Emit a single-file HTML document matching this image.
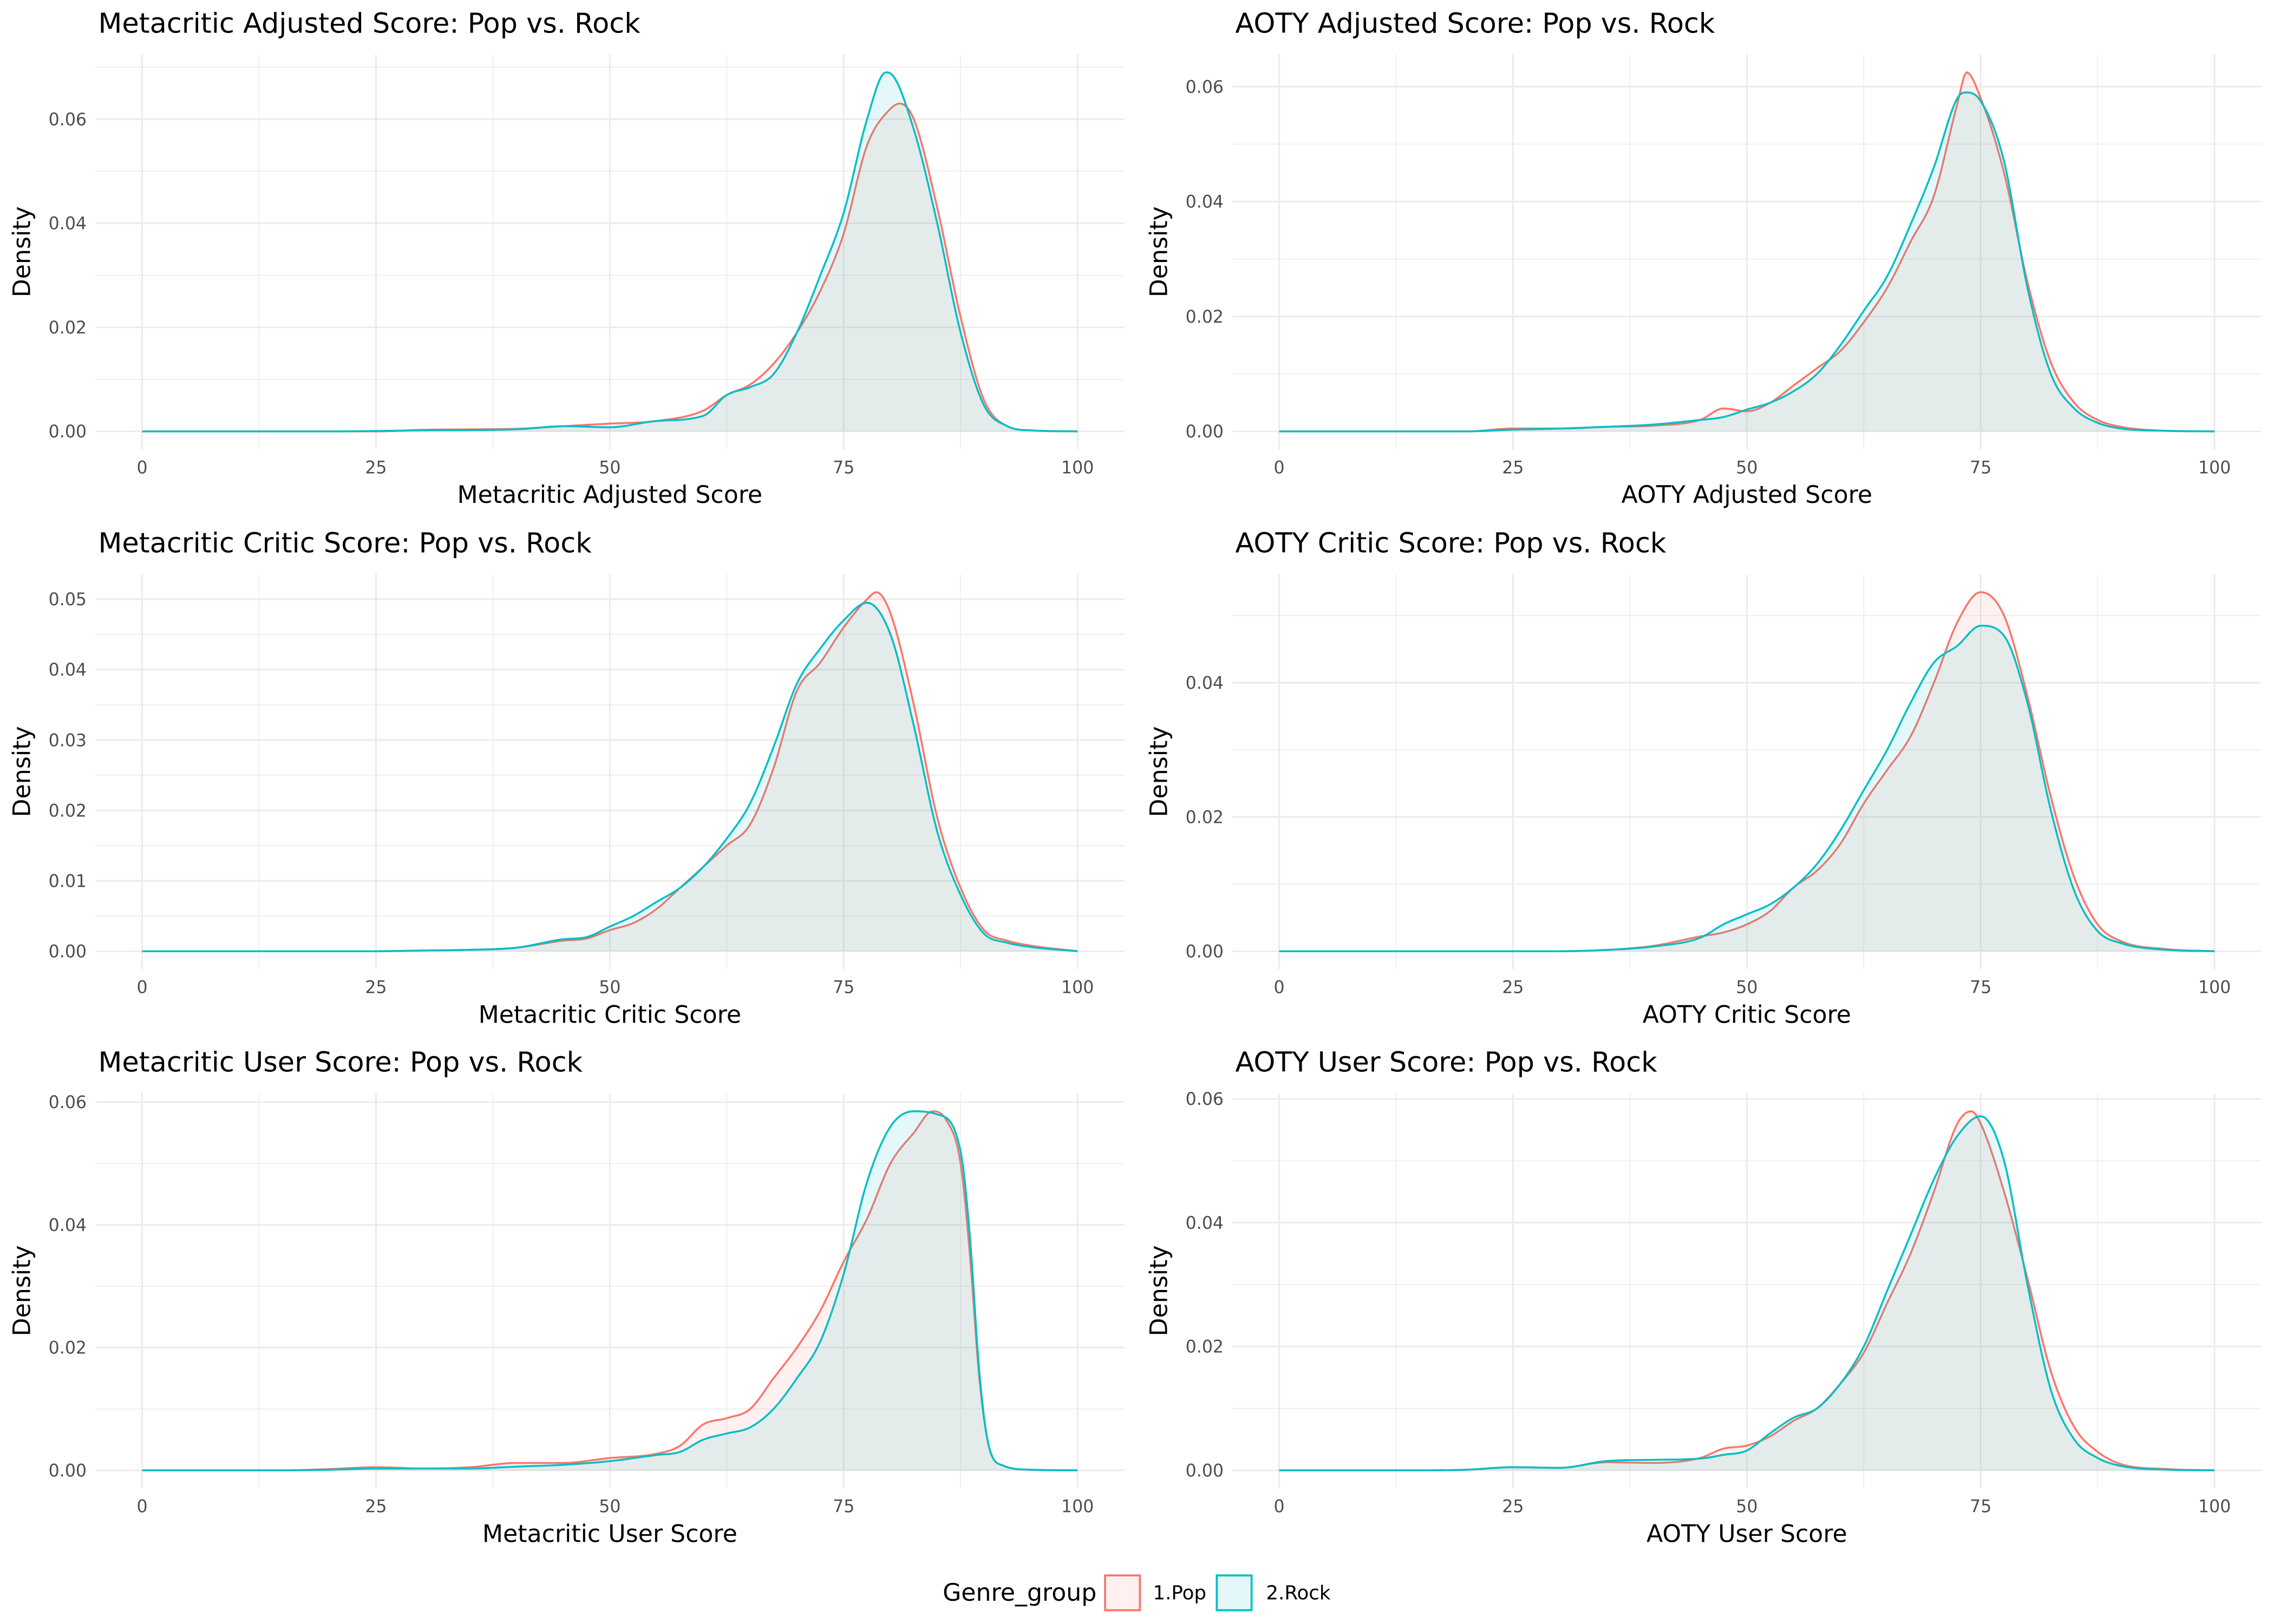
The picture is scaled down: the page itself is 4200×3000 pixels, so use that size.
<!DOCTYPE html>
<html><head><meta charset="utf-8"><style>
html,body{margin:0;padding:0;background:#fff}
svg{display:block;font-family:"DejaVu Sans","Liberation Sans",sans-serif}
</style></head><body>
<svg id="chart" width="4200" height="3000" viewBox="0 0 1568 1120" xmlns="http://www.w3.org/2000/svg">
<rect width="1568" height="1120" fill="#fff"/>
<g id="panels"></g>
<g>
<text x="650" y="1104" font-size="16.5" fill="#000">Genre_group</text>
<rect x="762" y="1086.5" width="24" height="24" fill="rgba(248,118,109,0.1)" stroke="#F8766D" stroke-width="1.4"/>
<text x="795" y="1103" font-size="13.3" fill="#000">1.Pop</text>
<rect x="839" y="1086.5" width="24" height="24" fill="rgba(0,191,196,0.1)" stroke="#00BFC4" stroke-width="1.4"/>
<text x="873" y="1103" font-size="13.3" fill="#000">2.Rock</text>
</g>
</svg>
<script>
// ---- data ----
const xTicks = [0, 25, 50, 75, 100];
const titles = ["Metacritic Adjusted Score: Pop vs. Rock","AOTY Adjusted Score: Pop vs. Rock","Metacritic Critic Score: Pop vs. Rock","AOTY Critic Score: Pop vs. Rock","Metacritic User Score: Pop vs. Rock","AOTY User Score: Pop vs. Rock"];
const xTitles = ["Metacritic Adjusted Score","AOTY Adjusted Score","Metacritic Critic Score","AOTY Critic Score","Metacritic User Score","AOTY User Score"];
const yTickSets = [[0,0.02,0.04,0.06],[0,0.02,0.04,0.06],[0,0.01,0.02,0.03,0.04,0.05],[0,0.02,0.04],[0,0.02,0.04,0.06],[0,0.02,0.04,0.06]];
const yTickLabels = [["0.00","0.02","0.04","0.06"],["0.00","0.02","0.04","0.06"],["0.00","0.01","0.02","0.03","0.04","0.05"],["0.00","0.02","0.04"],["0.00","0.02","0.04","0.06"],["0.00","0.02","0.04","0.06"]];

const p1PopX=[0,20,25,30,35,40,45,50,55,60,62.5,65,67.5,70,72.5,75,77.5,80,81,82.5,85,87.5,90,92.5,95,100];
const p1PopY=[0,0,0,0.0003,0.0004,0.0005,0.001,0.0015,0.002,0.004,0.007,0.009,0.013,0.019,0.027,0.038,0.055,0.062,0.063,0.06,0.043,0.022,0.006,0.001,0.0002,0];
const p1RockX=[0,20,30,40,45,50,55,60,62.5,65,67.5,70,72.5,75,77.5,79.5,80,82.5,85,87.5,90,92.5,95,100];
const p1RockY=[0,0,0.0002,0.0004,0.001,0.0008,0.002,0.003,0.007,0.0085,0.011,0.019,0.03,0.042,0.06,0.069,0.0688,0.058,0.04,0.019,0.005,0.001,0.0002,0];

const p2PopX=[0,20,25,30,35,40,45,47.5,50,52.5,55,57.5,60,62.5,65,67.5,70,72.5,73.5,75,77.5,80,82.5,85,87.5,90,95,100];
const p2PopY=[0,0,0.0005,0.0005,0.0008,0.001,0.002,0.004,0.0035,0.005,0.008,0.011,0.014,0.019,0.025,0.033,0.041,0.057,0.0625,0.058,0.045,0.026,0.012,0.005,0.002,0.0008,0.0001,0];
const p2RockX=[0,20,25,30,35,40,45,47.5,50,52.5,55,57.5,60,62.5,65,67.5,70,72.5,73.5,75,77.5,80,82.5,85,87.5,90,95,100];
const p2RockY=[0,0,0.0003,0.0005,0.0008,0.0012,0.002,0.0025,0.0038,0.005,0.007,0.01,0.015,0.021,0.027,0.036,0.046,0.058,0.059,0.0575,0.047,0.025,0.01,0.004,0.0015,0.0005,0.0001,0];

const p3PopX=[0,25,30,35,40,45,47.5,50,52.5,55,57.5,60,62.5,65,67.5,70,72.5,75,77.5,78.5,80,82.5,85,87.5,90,92.5,95,100];
const p3PopY=[0,0,0.0001,0.0002,0.0005,0.0015,0.0018,0.003,0.004,0.006,0.009,0.012,0.015,0.018,0.026,0.037,0.041,0.046,0.05,0.051,0.048,0.035,0.019,0.009,0.003,0.0015,0.0008,0];
const p3RockX=[0,25,30,35,40,45,47.5,50,52.5,55,57.5,60,62.5,65,67.5,70,72.5,75,77.5,80,82.5,85,87.5,90,92.5,95,100];
const p3RockY=[0,0,0.0001,0.0002,0.0005,0.0017,0.002,0.0035,0.005,0.007,0.009,0.012,0.016,0.021,0.029,0.038,0.043,0.047,0.0495,0.045,0.032,0.017,0.008,0.0025,0.0012,0.0006,0];

const p4PopX=[0,30,35,40,45,47.5,50,52.5,55,57.5,60,62.5,65,67.5,70,72.5,75,77.5,80,82.5,85,87.5,90,95,100];
const p4PopY=[0,0,0.0002,0.0008,0.0022,0.0028,0.004,0.006,0.0095,0.012,0.016,0.022,0.027,0.032,0.04,0.049,0.0535,0.05,0.038,0.023,0.011,0.004,0.0015,0.0003,0];
const p4RockX=[0,30,35,40,45,47.5,50,52.5,55,57.5,60,62.5,65,67.5,70,72.5,75,77.5,80,82.5,85,87.5,90,95,100];
const p4RockY=[0,0,0.0002,0.0007,0.002,0.004,0.0055,0.007,0.0095,0.013,0.018,0.024,0.03,0.037,0.043,0.0455,0.0485,0.047,0.037,0.021,0.009,0.003,0.0012,0.0002,0];

const p5PopX=[0,15,20,25,30,35,40,45,50,55,57.5,60,62.5,65,67.5,70,72.5,75,77.5,80,82.5,84.5,86,87.5,88.5,89.5,90.5,92,95,100];
const p5PopY=[0,0,0.0002,0.0005,0.0003,0.0005,0.0012,0.0012,0.002,0.0027,0.004,0.0075,0.0085,0.01,0.015,0.02,0.026,0.034,0.041,0.05,0.055,0.0585,0.057,0.05,0.035,0.015,0.004,0.0008,0.0001,0];
const p5RockX=[0,15,20,25,30,35,40,45,50,55,57.5,60,62.5,65,67.5,70,72.5,75,77.5,80,82.5,85,87.5,88.5,89.5,90.5,92,95,100];
const p5RockY=[0,0,0.0001,0.0003,0.0003,0.0003,0.0006,0.0009,0.0015,0.0025,0.003,0.005,0.006,0.007,0.01,0.015,0.021,0.032,0.047,0.056,0.0585,0.058,0.052,0.038,0.016,0.004,0.0008,0.0001,0];

const p6PopX=[0,15,20,25,30,35,40,45,47.5,50,52.5,55,57.5,60,62.5,65,67.5,70,72.5,74,75,77.5,80,82.5,85,87.5,90,95,100];
const p6PopY=[0,0,0.0001,0.0005,0.0004,0.0013,0.0012,0.002,0.0035,0.004,0.0055,0.008,0.01,0.014,0.019,0.027,0.035,0.045,0.056,0.058,0.056,0.045,0.031,0.016,0.007,0.003,0.001,0.0002,0];
const p6RockX=[0,15,20,25,30,35,40,45,47.5,50,52.5,55,57.5,60,62.5,65,67.5,70,72.5,75,77.5,80,82.5,85,87.5,90,95,100];
const p6RockY=[0,0,0.0001,0.0005,0.0004,0.0015,0.0017,0.0019,0.0025,0.0032,0.006,0.0085,0.01,0.014,0.02,0.029,0.038,0.047,0.054,0.0572,0.05,0.03,0.013,0.005,0.002,0.0007,0.0001,0];

const popSeries=[[p1PopX,p1PopY],[p2PopX,p2PopY],[p3PopX,p3PopY],[p4PopX,p4PopY],[p5PopX,p5PopY],[p6PopX,p6PopY]];
const rockSeries=[[p1RockX,p1RockY],[p2RockX,p2RockY],[p3RockX,p3RockY],[p4RockX,p4RockY],[p5RockX,p5RockY],[p6RockX,p6RockY]];

// ---- layout ----
const NS="http://www.w3.org/2000/svg";
const root=document.getElementById('panels');
const colLeft=[65.75,849.75], colW=709.5;
const rowTop=[37.5,396,754], rowH=272.4;
function mk(tag,attrs,parent){const e=document.createElementNS(NS,tag);for(const k in attrs)e.setAttribute(k,attrs[k]);parent.appendChild(e);return e;}

function monotone(xs,ys){
  const n=xs.length,d=[],m=new Array(n);
  for(let i=0;i<n-1;i++)d.push((ys[i+1]-ys[i])/(xs[i+1]-xs[i]));
  m[0]=d[0];m[n-1]=d[n-2];
  for(let i=1;i<n-1;i++){m[i]=(d[i-1]*d[i]<=0)?0:(d[i-1]+d[i])/2;}
  for(let i=0;i<n-1;i++){if(d[i]===0){m[i]=0;m[i+1]=0;continue;}
    const a=m[i]/d[i],b=m[i+1]/d[i],s=a*a+b*b;if(s>9){const t=3/Math.sqrt(s);m[i]=t*a*d[i];m[i+1]=t*b*d[i];}}
  const out=[];
  for(let i=0;i<n-1;i++){const h=xs[i+1]-xs[i];const steps=Math.max(2,Math.ceil(h/0.25));
    for(let k=0;k<steps;k++){const t=k/steps,t2=t*t,t3=t2*t;
      const y=(2*t3-3*t2+1)*ys[i]+(t3-2*t2+t)*h*m[i]+(-2*t3+3*t2)*ys[i+1]+(t3-t2)*h*m[i+1];
      out.push([xs[i]+t*h,Math.max(0,y)]);}}
  out.push([xs[n-1],ys[n-1]]);return out;
}

for(let p=0;p<6;p++){
  const col=p%2,row=Math.floor(p/2);
  const L=colLeft[col],R=L+colW,T=rowTop[row],B=T+rowH;
  const ymax=Math.max(...popSeries[p][1],...rockSeries[p][1]);
  const xS=v=>L+(v+5)/110*colW;
  const yS=v=>B-(v+0.05*ymax)/(1.1*ymax)*rowH;
  const g=mk('g',{},root);
  
  
  const yt=yTickSets[p];
  const step=yt[1]-yt[0];
  for(let i=0;i<yt.length;i++){const v=yt[i]+step/2;if(yS(v)>T){const l=mk('line',{x1:L,x2:R,y1:yS(v),y2:yS(v),stroke:'#EBEBEB','stroke-width':0.55},g);}}
  for(let i=0;i<xTicks.length-1;i++){const v=(xTicks[i]+xTicks[i+1])/2;const l=mk('line',{x1:xS(v),x2:xS(v),y1:T,y2:B,stroke:'#EBEBEB','stroke-width':0.55},g);}
  for(let i=0;i<yt.length;i++){const l=mk('line',{x1:L,x2:R,y1:yS(yt[i]),y2:yS(yt[i]),stroke:'#EBEBEB','stroke-width':1.1},g);
    const t=mk('text',{x:L-6,y:yS(yt[i])+4.2,'text-anchor':'end','font-size':11.8,fill:'#4D4D4D'},g);t.textContent=yTickLabels[p][i];}
  for(let i=0;i<xTicks.length;i++){const l=mk('line',{x1:xS(xTicks[i]),x2:xS(xTicks[i]),y1:T,y2:B,stroke:'#EBEBEB','stroke-width':1.1},g);
    const t=mk('text',{x:xS(xTicks[i]),y:B+16.5,'text-anchor':'middle','font-size':11.8,fill:'#4D4D4D'},g);t.textContent=xTicks[i];}
  [[popSeries[p],'#F8766D','rgba(248,118,109,0.1)','pop'],[rockSeries[p],'#00BFC4','rgba(0,191,196,0.1)','rock']].forEach(([s,c,f,nm])=>{
    const pts=monotone(s[0],s[1]);
    const line=pts.map((q,i)=>(i?'L':'M')+xS(q[0]).toFixed(2)+','+yS(q[1]).toFixed(2)).join('');
    const area=line+'L'+xS(100)+','+yS(0)+'L'+xS(0)+','+yS(0)+'Z';
    const a=mk('path',{d:area,fill:f,stroke:'none'},g);
    const ln=mk('path',{d:line,fill:'none',stroke:c,'stroke-width':1.3},g);
  });
  const tt=mk('text',{x:L+2,y:T-15,'font-size':19,fill:'#000'},g);tt.textContent=titles[p];
  const xt=mk('text',{x:(L+R)/2,y:B+37,'text-anchor':'middle','font-size':16.5,fill:'#000'},g);xt.textContent=xTitles[p];
  const yx=L-45, yy=(T+B)/2;
  const ytl=mk('text',{x:yx,y:yy,'text-anchor':'middle','font-size':16.5,fill:'#000',transform:`rotate(-90 ${yx} ${yy})`},g);ytl.textContent='Density';
}
</script>
</body></html>
